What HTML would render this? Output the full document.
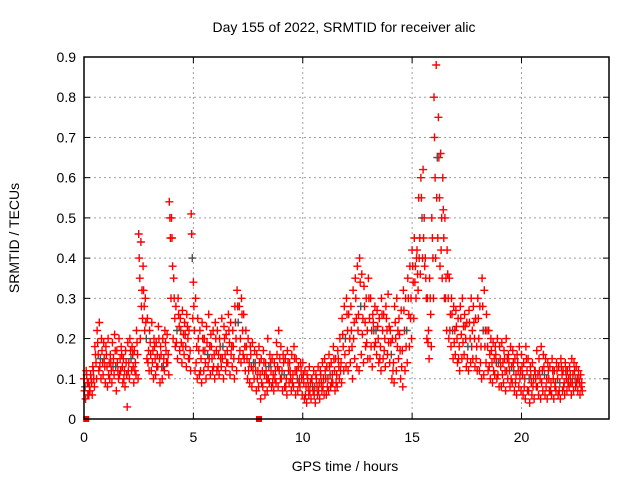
<!DOCTYPE html>
<html><head><meta charset="utf-8">
<style>
html,body{margin:0;padding:0;background:#fff;}
svg{display:block;font-family:"Liberation Sans",sans-serif;}
</style></head>
<body>
<svg id="chart" width="640" height="480" viewBox="0 0 640 480">
  <text x="344" y="32" text-anchor="middle" font-size="14">Day 155 of 2022, SRMTID for receiver alic</text>
  <text transform="translate(19,238) rotate(-90)" text-anchor="middle" font-size="14">SRMTID / TECUs</text>
  <text x="345" y="471" text-anchor="middle" font-size="14">GPS time / hours</text>
  <g id="grid"></g>
  <g id="ticks"></g>
  <g id="points"></g>
  <rect x="84" y="57" width="525" height="362" fill="none" stroke="#000" stroke-width="1.5"/>
</svg>
<script>
const xTicks=[0,5,10,15,20];
const yTicks=[0,0.1,0.2,0.3,0.4,0.5,0.6,0.7,0.8,0.9];
const yTickLabels=["0","0.1","0.2","0.3","0.4","0.5","0.6","0.7","0.8","0.9"];
const startHour=0, stepHour=0.1;
const hiVals=[.10,.12,.09,.11,.13,.18,.22,.24,.20,.19,
.18,.20,.16,.19,.21,.17,.20,.18,.15,.17,
.19,.20,.18,.17,.22,.46,.44,.38,.30,.25,
.22,.24,.20,.19,.23,.18,.20,.22,.21,.54,
.50,.35,.28,.30,.25,.27,.24,.26,.22,.51,
.34,.30,.25,.22,.24,.20,.23,.26,.21,.22,
.24,.22,.20,.25,.23,.21,.26,.24,.22,.28,
.32,.28,.30,.26,.22,.20,.18,.19,.17,.16,
.18,.15,.17,.14,.20,.16,.15,.14,.19,.22,
.18,.16,.15,.17,.14,.16,.18,.15,.13,.14,
.14,.12,.11,.13,.10,.12,.11,.13,.12,.14,
.15,.13,.16,.14,.18,.15,.17,.20,.25,.28,
.30,.26,.28,.32,.35,.38,.40,.36,.33,.30,
.35,.30,.26,.28,.27,.25,.30,.26,.28,.31,
.22,.20,.28,.30,.25,.27,.32,.30,.35,.38,
.42,.45,.40,.55,.60,.62,.40,.30,.35,.50,
.80,.88,.75,.66,.60,.50,.42,.35,.30,.28,
.27,.25,.28,.30,.26,.24,.27,.30,.28,.25,
.30,.28,.35,.32,.26,.22,.20,.19,.18,.20,
.18,.19,.17,.20,.16,.18,.17,.15,.16,.18,
.16,.14,.18,.15,.13,.14,.12,.17,.15,.18,
.16,.15,.14,.13,.15,.12,.14,.13,.15,.12,
.14,.12,.13,.15,.14,.13,.12,.11];
const extraVals=[.07,.11,.06,.10,.12,.16,.19,.13,.17,.15,
.16,.11,.14,.13,.17,.14,.11,.16,.10,.14,
.12,.17,.16,.12,.19,.40,.28,.32,.24,.14,
.19,.14,.18,.13,.20,.16,.13,.19,.14,.50,
.45,.30,.19,.26,.22,.18,.21,.23,.15,.46,
.28,.14,.20,.12,.20,.17,.19,.15,.18,.13,
.20,.13,.18,.15,.20,.14,.22,.16,.18,.24,
.28,.17,.26,.15,.18,.12,.16,.12,.14,.10,
.14,.09,.14,.12,.10,.14,.09,.10,.16,.12,
.10,.14,.08,.14,.12,.09,.15,.12,.09,.12,
.11,.06,.10,.07,.10,.06,.10,.07,.11,.08,
.12,.08,.13,.09,.15,.09,.15,.12,.21,.16,
.26,.17,.22,.20,.30,.22,.34,.21,.28,.19,
.30,.18,.24,.19,.23,.15,.26,.17,.25,.19,
.19,.12,.24,.18,.21,.13,.27,.18,.30,.25,
.38,.34,.42,.40,.55,.45,.35,.19,.30,.45,
.70,.55,.65,.42,.52,.30,.36,.22,.26,.19,
.23,.15,.25,.19,.23,.15,.24,.18,.24,.15,
.25,.14,.28,.18,.22,.13,.17,.12,.16,.11,
.15,.11,.15,.12,.14,.10,.14,.09,.14,.10,
.13,.08,.15,.07,.11,.08,.12,.08,.12,.09,
.13,.08,.12,.07,.12,.08,.12,.07,.13,.08,
.12,.09,.11,.09,.12,.09,.10,.08];
const midVals=[.08,.09,.08,.09,.10,.14,.16,.15,.14,.13,
.13,.14,.12,.15,.13,.12,.15,.13,.12,.11,
.14,.15,.13,.14,.16,.35,.32,.28,.20,.17,
.16,.17,.15,.16,.15,.13,.15,.17,.16,.45,
.38,.25,.22,.23,.19,.21,.18,.20,.17,.40,
.22,.18,.17,.15,.17,.14,.16,.18,.15,.16,
.17,.16,.15,.18,.16,.17,.19,.18,.15,.20,
.24,.20,.22,.18,.15,.14,.13,.14,.12,.12,
.11,.12,.11,.10,.13,.12,.11,.12,.13,.15,
.12,.11,.10,.12,.10,.11,.12,.10,.10,.10,
.09,.08,.08,.09,.08,.08,.08,.09,.09,.10,
.10,.10,.11,.11,.12,.11,.13,.14,.18,.20,
.22,.20,.18,.24,.25,.26,.28,.25,.24,.22,
.25,.22,.22,.22,.20,.18,.22,.20,.22,.23,
.16,.14,.20,.22,.17,.17,.22,.22,.26,.30,
.34,.38,.36,.45,.50,.50,.30,.22,.26,.40,
.60,.65,.55,.50,.45,.35,.30,.26,.22,.22,
.20,.18,.21,.23,.20,.18,.20,.22,.20,.18,
.20,.18,.22,.22,.18,.16,.14,.15,.14,.14,
.13,.14,.12,.15,.12,.13,.12,.11,.12,.12,
.11,.10,.12,.10,.09,.10,.10,.11,.10,.12,
.11,.10,.10,.09,.10,.09,.10,.09,.11,.09,
.10,.10,.09,.11,.10,.10,.09,.09];
const loVals=[.05,.06,.07,.06,.08,.10,.12,.10,.11,.09,
.08,.10,.09,.11,.07,.10,.12,.09,.08,.03,
.10,.12,.09,.11,.10,.20,.25,.22,.15,.12,
.12,.10,.11,.13,.09,.10,.12,.14,.11,.30,
.20,.18,.15,.17,.14,.16,.13,.15,.12,.25,
.12,.10,.11,.09,.12,.10,.13,.11,.12,.10,
.12,.11,.13,.10,.12,.14,.11,.13,.10,.12,
.15,.14,.16,.12,.10,.09,.08,.10,.07,.08,
.05,.08,.06,.07,.09,.08,.07,.09,.08,.10,
.07,.08,.06,.09,.07,.08,.06,.07,.08,.06,
.05,.04,.06,.05,.07,.04,.06,.05,.07,.06,
.06,.07,.08,.09,.07,.08,.10,.09,.12,.13,
.12,.14,.10,.15,.13,.12,.16,.14,.18,.15,
.15,.13,.18,.16,.14,.12,.15,.13,.16,.14,
.10,.09,.12,.15,.10,.08,.12,.14,.18,.20,
.25,.30,.32,.36,.40,.38,.20,.15,.18,.30,
.40,.45,.38,.35,.30,.22,.20,.18,.15,.16,
.14,.12,.15,.16,.13,.12,.14,.15,.13,.12,
.12,.10,.11,.14,.12,.10,.09,.11,.10,.08,
.08,.09,.07,.10,.08,.09,.07,.06,.08,.07,
.06,.05,.07,.04,.06,.05,.08,.06,.05,.07,
.06,.05,.07,.06,.05,.07,.06,.05,.07,.06,
.07,.08,.06,.07,.08,.07,.06,.07];
const gapTimes=[0.1,8.0];
const gapVals=[0,0];

const X0=84,X1=609,Y0=419,Y1=57,XMAX=24,YMAX=0.9;
function xs(t){return X0+t/XMAX*(X1-X0);}
function ys(v){return Y0-v/YMAX*(Y0-Y1);}
const NS="http://www.w3.org/2000/svg";
const grid=document.getElementById('grid'),ticks=document.getElementById('ticks'),pts=document.getElementById('points');
function mk(tag,attrs,parent){const e=document.createElementNS(NS,tag);for(const k in attrs)e.setAttribute(k,attrs[k]);parent.appendChild(e);return e;}
xTicks.forEach(t=>{
  const x=xs(t);
  if(t>0){const g=mk('line',{x1:x,y1:Y0,x2:x,y2:Y1,stroke:'#a0a0a0','stroke-dasharray':'2,3'},grid);
  
  }
  mk('line',{x1:x,y1:Y0,x2:x,y2:Y0-6,stroke:'#000'},ticks);
  mk('line',{x1:x,y1:Y1,x2:x,y2:Y1+6,stroke:'#000'},ticks);
  const l=mk('text',{x:x,y:Y0+23,'text-anchor':'middle','font-size':'14'},ticks);l.textContent=String(t);
  
  
});
yTicks.forEach((v,i)=>{
  const y=ys(v);
  if(v>0&&v<YMAX){const g=mk('line',{x1:X0,y1:y,x2:X1,y2:y,stroke:'#a0a0a0','stroke-dasharray':'2,3'},grid);
  
  }
  mk('line',{x1:X0,y1:y,x2:X0+6,y2:y,stroke:'#000'},ticks);
  mk('line',{x1:X1,y1:y,x2:X1-6,y2:y,stroke:'#000'},ticks);
  const l=mk('text',{x:X0-8,y:y+5,'text-anchor':'end','font-size':'14'},ticks);l.textContent=yTickLabels[i];
  
  
});
function plus(t,v,color){
  const x=xs(t),y=ys(v);
  const p=mk('path',{d:`M${(x-4).toFixed(1)},${y.toFixed(1)}h8M${x.toFixed(1)},${(y-4).toFixed(1)}v8`,stroke:color,'stroke-width':'1.4',fill:'none'},pts);
  
  
}
const series=[[hiVals,0],[extraVals,0.025],[midVals,0.05],[loVals,0.075]];
series.forEach(([arr,off])=>{
  arr.forEach((v,i)=>{
    const t=startHour+i*stepHour+off;
    const c=(arr===midVals&&i%7===0)?'#505050':'#ff0000';
    plus(t,v,c);
  });
});
gapTimes.forEach((t,i)=>{
  const r=mk('rect',{x:xs(t)-3,y:ys(gapVals[i])-3,width:6,height:6,fill:'#ff0000'},pts);
  
  
});
</script>
</body></html>
